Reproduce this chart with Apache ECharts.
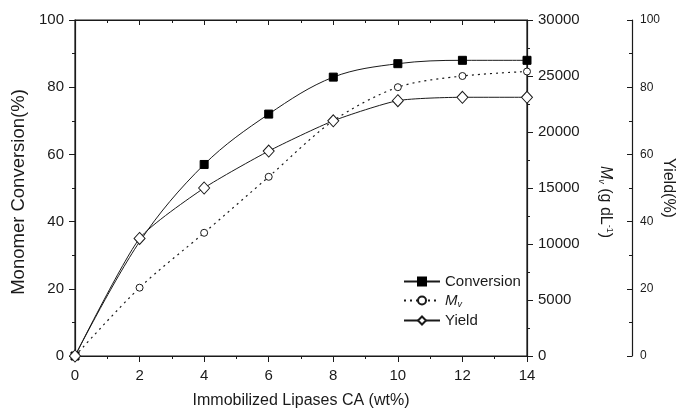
<!DOCTYPE html>
<html>
<head>
<meta charset="utf-8">
<script src="https://cdn.jsdelivr.net/npm/echarts@6/dist/echarts.min.js"></script>
<style>
  html, body { margin: 0; padding: 0; background: #fff; }
  #chart { width: 677px; height: 411px; }
</style>
</head>
<body>
<div id="chart"></div>
<script>
// 数据
var loading = [0, 2, 4, 6, 8, 10, 12, 14];
var conversion = [0, 34, 57, 72, 83, 87, 88, 88];
var mv = [0, 6100, 11000, 16000, 21000, 24000, 25000, 25400];
var yieldPct = [0, 35, 50, 61, 70, 76, 77, 77];

var leftTicks = [0, 100, 20];
var mvTicks = [0, 30000, 5000];

function pairs(xs, ys) {
    return xs.map(function (x, i) { return [x, ys[i]]; });
}

var font = 'Liberation Sans, Arial, sans-serif';
var ink = '#1a1a1a';

var chart = echarts.init(document.getElementById('chart'));

var convData = pairs(loading, conversion);
// square at x=2 is hidden under the diamond in the original
convData[1] = { value: convData[1], symbolSize: 0 };

var option = {
    animation: false,
    backgroundColor: '#fff',
    textStyle: { fontFamily: font, color: ink },
    grid: [
        {
            left: 75, right: 150, top: 20, bottom: 55,
            containLabel: false, outerBoundsMode: 'none',
            show: true, borderColor: ink, borderWidth: 1.2, backgroundColor: 'transparent'
        },
        {
            // thin strip along the top edge, only used for the mirrored ticks
            left: 75, right: 150, top: 19, height: 1,
            containLabel: false, outerBoundsMode: 'none'
        }
    ],
    legend: {
        orient: 'vertical',
        left: 398, top: 269,
        itemWidth: 36, itemHeight: 10, itemGap: 4,
        textStyle: {
            fontFamily: font, fontSize: 15, color: ink,
            rich: {
                i: { fontFamily: font, fontSize: 15, fontStyle: 'italic', color: ink },
                s: { fontFamily: font, fontSize: 9, fontStyle: 'italic', color: ink, verticalAlign: 'bottom', padding: [8, 0, 0, 0] }
            }
        },
        formatter: function (name) {
            if (name === 'Mv') return '{i|M}{s|v}';
            return name;
        },
        data: ['Conversion', 'Mv', 'Yield']
    },
    xAxis: [
        {
            type: 'value', min: 0, max: 14, interval: 2, position: 'bottom',
            name: 'Immobilized Lipases CA (wt%)',
            nameLocation: 'middle', nameGap: 37,
            nameTextStyle: { fontFamily: font, fontSize: 16, color: ink },
            axisLine: { onZero: false, lineStyle: { color: ink, width: 1.2 } },
            axisTick: { inside: false, length: 6, lineStyle: { color: ink } },
            minorTick: { show: true, splitNumber: 2, length: 3, lineStyle: { color: ink } },
            axisLabel: { fontSize: 15, color: ink, margin: 12 },
            splitLine: { show: false }
        },
        {
            gridIndex: 1,
            type: 'value', min: 0, max: 14, interval: 2, position: 'bottom',
            axisLine: { show: true, onZero: false, lineStyle: { color: ink, width: 1.2 } },
            axisTick: { show: true, inside: false, length: 5, lineStyle: { color: ink, width: 1 } },
            minorTick: { show: true, splitNumber: 2, length: 3, lineStyle: { color: ink } },
            axisLabel: { show: false },
            splitLine: { show: false }
        }
    ],
    yAxis: [
        {
            type: 'value', min: leftTicks[0], max: leftTicks[1], interval: leftTicks[2],
            position: 'left',
            name: 'Monomer Conversion(%)',
            nameLocation: 'middle', nameGap: 36,
            nameTextStyle: { fontFamily: font, fontSize: 18.5, color: ink, padding: [0, 8, 0, 0] },
            axisLine: { show: true, onZero: false, lineStyle: { color: ink, width: 1.2 } },
            axisTick: { show: true, inside: false, length: 6, lineStyle: { color: ink } },
            minorTick: { show: true, splitNumber: 2, length: 3, lineStyle: { color: ink } },
            axisLabel: { fontSize: 15, color: ink, margin: 11 },
            splitLine: { show: false }
        },
        {
            type: 'value', min: mvTicks[0], max: mvTicks[1], interval: mvTicks[2],
            position: 'right',
            name: '{i|M}{s|v}{t| (g dL}{p|-1}{t|)}',
            nameLocation: 'middle', nameRotate: -90, nameGap: 70,
            nameTextStyle: {
                fontFamily: font, fontSize: 16, color: ink,
                padding: [0, 0, 0, 28],
                rich: {
                    i: { fontFamily: font, fontSize: 16, fontStyle: 'italic', color: ink },
                    s: { fontFamily: font, fontSize: 9, fontStyle: 'italic', color: ink, verticalAlign: 'bottom', padding: [8, 0, 0, 0] },
                    t: { fontFamily: font, fontSize: 16, color: ink },
                    p: { fontFamily: font, fontSize: 9, color: ink, verticalAlign: 'top', padding: [0, 0, 8, 0] }
                }
            },
            axisLine: { show: true, onZero: false, lineStyle: { color: ink, width: 1.2 } },
            axisTick: { show: true, inside: false, length: 6, lineStyle: { color: ink } },
            minorTick: { show: true, splitNumber: 2, length: 3, lineStyle: { color: ink } },
            axisLabel: { fontSize: 15, color: ink, margin: 11, formatter: function (v) { return String(v); } },
            splitLine: { show: false }
        },
        {
            type: 'value', min: leftTicks[0], max: leftTicks[1], interval: leftTicks[2],
            position: 'right', offset: 105,
            name: 'Yield(%)',
            nameLocation: 'middle', nameRotate: -90, nameGap: 28, nameMoveOverlap: false,
            nameTextStyle: { fontFamily: font, fontSize: 16, color: ink },
            axisLine: { show: true, onZero: false, lineStyle: { color: ink, width: 1.2 } },
            axisTick: { show: true, inside: true, length: 5, lineStyle: { color: ink } },
            minorTick: { show: true, splitNumber: 2, length: 3, lineStyle: { color: ink } },
            axisLabel: { inside: false, fontSize: 12, color: ink, margin: 8 },
            splitLine: { show: false }
        },
        {
            gridIndex: 1, type: 'value', min: leftTicks[0], max: leftTicks[1], show: false
        }
    ],
    series: [
        {
            name: 'Conversion', type: 'line', yAxisIndex: 0, z: 2,
            data: convData, smooth: 0.35,
            symbol: 'rect', symbolSize: 8,
            itemStyle: { color: '#000', borderColor: '#000', borderWidth: 1 },
            lineStyle: { color: ink, width: 1 }
        },
        {
            name: 'Mv', type: 'line', yAxisIndex: 1, z: 3,
            data: pairs(loading, mv), smooth: 0.3,
            symbol: 'circle', symbolSize: 7,
            itemStyle: { color: '#fff', borderColor: ink, borderWidth: 1 },
            lineStyle: { color: ink, width: 1.2, type: [2, 4] }
        },
        {
            name: 'Yield', type: 'line', yAxisIndex: 2, z: 4,
            data: pairs(loading, yieldPct), smooth: 0.2,
            symbol: 'diamond', symbolSize: [11, 12],
            itemStyle: { color: '#fff', borderColor: ink, borderWidth: 1 },
            lineStyle: { color: ink, width: 1 }
        },
        {
            // keeps the top tick strip in use, drawn invisibly
            type: 'line', xAxisIndex: 1, yAxisIndex: 3, data: pairs(loading, conversion),
            silent: true, showSymbol: false, lineStyle: { opacity: 0 }, z: 0
        }
    ]
};

chart.setOption(option);
</script>
</body>
</html>
